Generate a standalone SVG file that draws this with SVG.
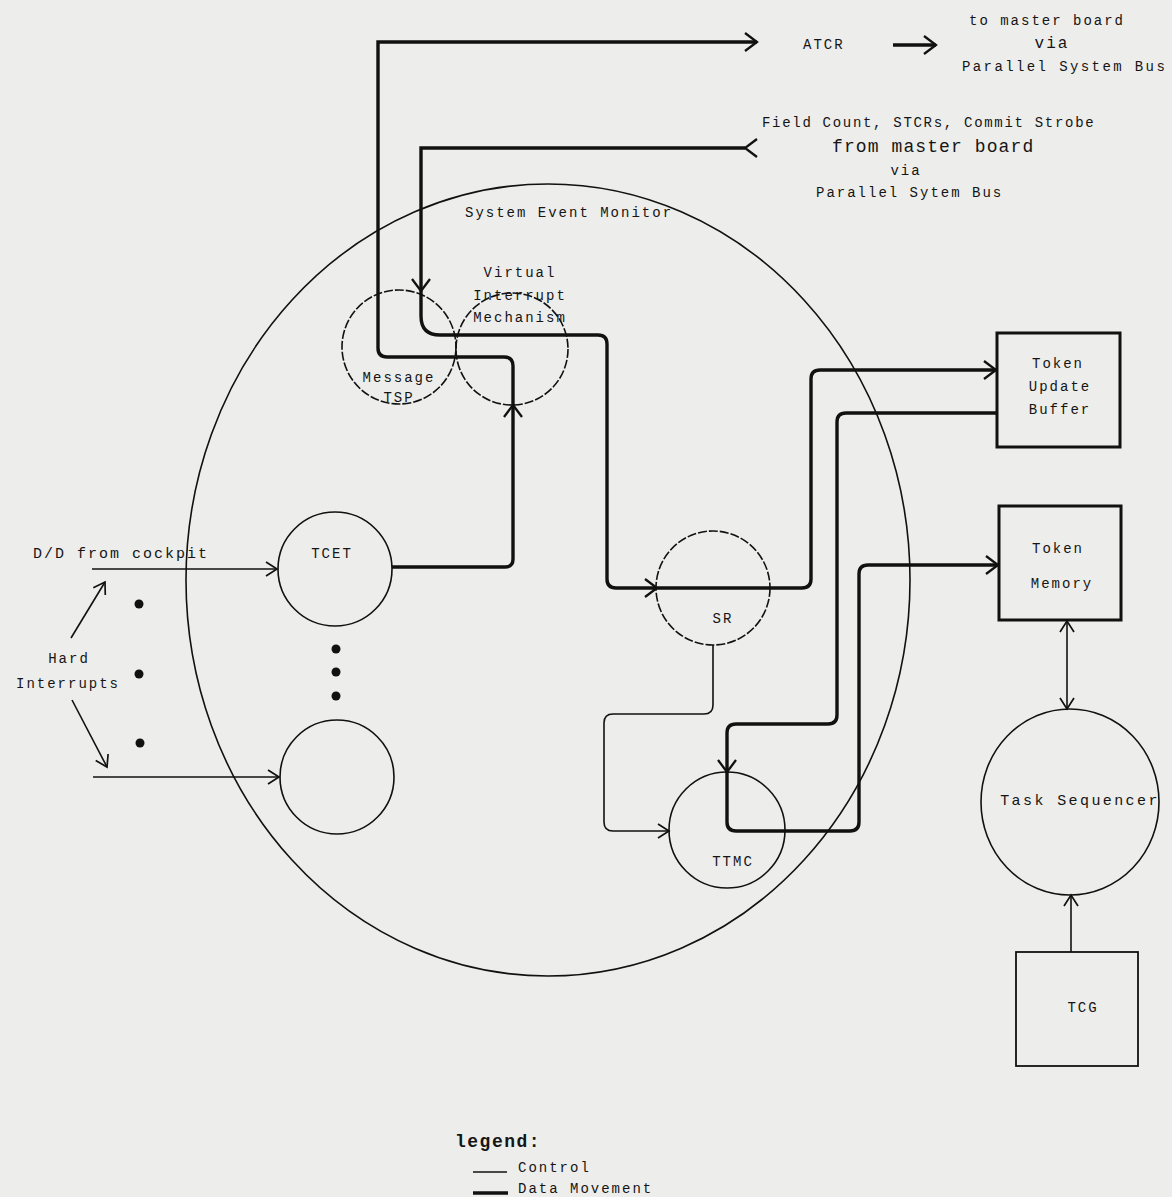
<svg xmlns="http://www.w3.org/2000/svg" width="1172" height="1197" viewBox="0 0 1172 1197">
<style>
  .bg { fill: #ededeb; }
  .node { fill: none; stroke: #111; stroke-width: 1.6; }
  .dash { stroke-dasharray: 9 2; }
  .box { fill: none; stroke: #111; stroke-width: 3; }
  .tbox { fill: none; stroke: #111; stroke-width: 1.8; }
  .ctl { fill: none; stroke: #111; stroke-width: 1.6; }
  .dat { fill: none; stroke: #111; stroke-width: 3.4; }
  .dot { fill: #111; }
  text { font-family: "Liberation Mono", "DejaVu Sans Mono", monospace; font-size: 14px; letter-spacing: 2px; fill: #151515; }
  .mid { text-anchor: middle; }
  .big { font-size: 18px; letter-spacing: 1.1px; }
</style>
<defs>
  <marker id="a1" markerUnits="userSpaceOnUse" markerWidth="30" markerHeight="30" viewBox="-15 -15 30 30" refX="0" refY="0" orient="auto" overflow="visible">
    <path d="M-11,-7 L0,0 L-11,7" fill="none" stroke="#111" stroke-width="1.7"/>
  </marker>
  <marker id="a1r" markerUnits="userSpaceOnUse" markerWidth="30" markerHeight="30" viewBox="-15 -15 30 30" refX="0" refY="0" orient="auto-start-reverse" overflow="visible">
    <path d="M-11,-7 L0,0 L-11,7" fill="none" stroke="#111" stroke-width="1.7"/>
  </marker>
  <marker id="a2" markerUnits="userSpaceOnUse" markerWidth="30" markerHeight="30" viewBox="-15 -15 30 30" refX="0" refY="0" orient="auto" overflow="visible">
    <path d="M-12,-9 L0,0 L-12,9" fill="none" stroke="#111" stroke-width="2.3"/>
  </marker>
</defs>
<rect class="bg" x="0" y="0" width="1172" height="1197"/>

<g id="system-event-monitor">
  <ellipse class="node" cx="548" cy="580" rx="362" ry="396"/>
  <text x="465" y="217">System Event Monitor</text>
</g>

<g id="message-tsp">
  <circle class="node dash" cx="399" cy="347" r="57"/>
  <text class="mid" x="399" y="382">Message</text>
  <text class="mid" x="399" y="402">TSP</text>
</g>
<g id="virtual-interrupt-mechanism">
  <circle class="node dash" cx="512" cy="349" r="56"/>
  <text class="mid" x="520" y="277">Virtual</text>
  <text class="mid" x="520" y="300">Interrupt</text>
  <text class="mid" x="520" y="322">Mechanism</text>
</g>
<g id="tcet">
  <circle class="node" cx="335" cy="569" r="57"/>
  <text class="mid" x="332" y="558">TCET</text>
</g>
<g id="tcet-n">
  <circle class="node" cx="337" cy="777" r="57"/>
</g>
<g id="sr">
  <circle class="node dash" cx="713" cy="588" r="57"/>
  <text class="mid" x="723" y="623">SR</text>
</g>
<g id="ttmc">
  <circle class="node" cx="727" cy="830" r="58"/>
  <text class="mid" x="733" y="866">TTMC</text>
</g>
<g id="token-update-buffer">
  <rect class="box" x="997" y="333" width="123" height="114"/>
  <text class="mid" x="1058" y="368">Token</text>
  <text class="mid" x="1060" y="391">Update</text>
  <text class="mid" x="1060" y="414">Buffer</text>
</g>
<g id="token-memory">
  <rect class="box" x="999" y="506" width="122" height="114"/>
  <text class="mid" x="1058" y="553">Token</text>
  <text class="mid" x="1062" y="588">Memory</text>
</g>
<g id="task-sequencer">
  <ellipse class="node" cx="1070" cy="802" rx="89" ry="93"/>
  <text class="mid" x="1080" y="805" style="font-size:15px;letter-spacing:2.4px">Task Sequencer</text>
</g>
<g id="tcg">
  <rect class="tbox" x="1016" y="952" width="122" height="114"/>
  <text class="mid" x="1083" y="1012">TCG</text>
</g>

<g id="external-labels">
  <text x="803" y="49">ATCR</text>
  <text x="969" y="25">to master board</text>
  <text class="mid" x="1052" y="48" style="font-size:16px">via</text>
  <text x="962" y="71" style="letter-spacing:2.4px">Parallel System Bus</text>
  <text x="762" y="127" style="letter-spacing:1.7px">Field Count, STCRs, Commit Strobe</text>
  <text class="big" x="832" y="152">from master board</text>
  <text class="mid" x="906" y="175">via</text>
  <text x="816" y="197">Parallel Sytem Bus</text>
  <text x="33" y="558" style="font-size:15px">D/D from cockpit</text>
  <text class="mid" x="69" y="663">Hard</text>
  <text class="mid" x="68" y="688">Interrupts</text>
</g>

<g id="dots">
  <circle class="dot" cx="139" cy="604" r="4.5"/>
  <circle class="dot" cx="139" cy="674" r="4.5"/>
  <circle class="dot" cx="140" cy="743" r="4.5"/>
  <circle class="dot" cx="336" cy="649" r="4.5"/>
  <circle class="dot" cx="336" cy="672" r="4.5"/>
  <circle class="dot" cx="336" cy="696" r="4.5"/>
</g>

<g id="connectors">
  <path class="ctl" d="M92,569 L277,569" marker-end="url(#a1)"/>
  <path class="ctl" d="M93,777 L279,777" marker-end="url(#a1)"/>
  <path class="ctl" d="M71,638 L105,582" marker-end="url(#a1)"/>
  <path class="ctl" d="M72,700 L107,767" marker-end="url(#a1)"/>
  <path class="dat" d="M392,567 L505,567 Q513,567 513,559 L513,405" marker-end="url(#a2)"/>
  <path class="dat" d="M513,405 L513,366 Q513,357 504,357 L387,357 Q378,357 378,348 L378,42 L757,42" marker-end="url(#a2)"/>
  <path class="dat" d="M893,45 L936,45" marker-end="url(#a2)"/>
  <path class="dat" d="M745,148 L421,148 L421,291" marker-start="url(#a2)" marker-end="url(#a2)"/>
  <path class="dat" d="M421,291 L421,316 Q421,335 440,335 L598,335 Q607,335 607,344 L607,579 Q607,588 616,588 L657,588" marker-end="url(#a2)"/>
  <path class="dat" d="M657,588 L802,588 Q811,588 811,579 L811,379 Q811,370 820,370 L996,370" marker-end="url(#a2)"/>
  <path class="dat" d="M997,413 L846,413 Q837,413 837,422 L837,715 Q837,724 828,724 L736,724 Q727,724 727,733 L727,772" marker-end="url(#a2)"/>
  <path class="dat" d="M727,772 L727,822 Q727,831 736,831 L850,831 Q859,831 859,822 L859,574 Q859,565 868,565 L998,565" marker-end="url(#a2)"/>
  <path class="ctl" d="M713,645 L713,705 Q713,714 704,714 L613,714 Q604,714 604,723 L604,822 Q604,831 613,831 L669,831" marker-end="url(#a1)"/>
  <path class="ctl" d="M1067,621 L1067,709" marker-start="url(#a1r)" marker-end="url(#a1)"/>
  <path class="ctl" d="M1071,952 L1071,895" marker-end="url(#a1)"/>
</g>

<g id="legend">
  <text x="455" y="1147" style="font-size:18px;letter-spacing:1.5px;font-weight:bold">legend:</text>
  <path class="ctl" d="M473,1172 L507,1172"/>
  <text x="518" y="1172">Control</text>
  <path class="dat" d="M473,1193 L508,1193"/>
  <text x="518" y="1193">Data Movement</text>
</g>
</svg>
